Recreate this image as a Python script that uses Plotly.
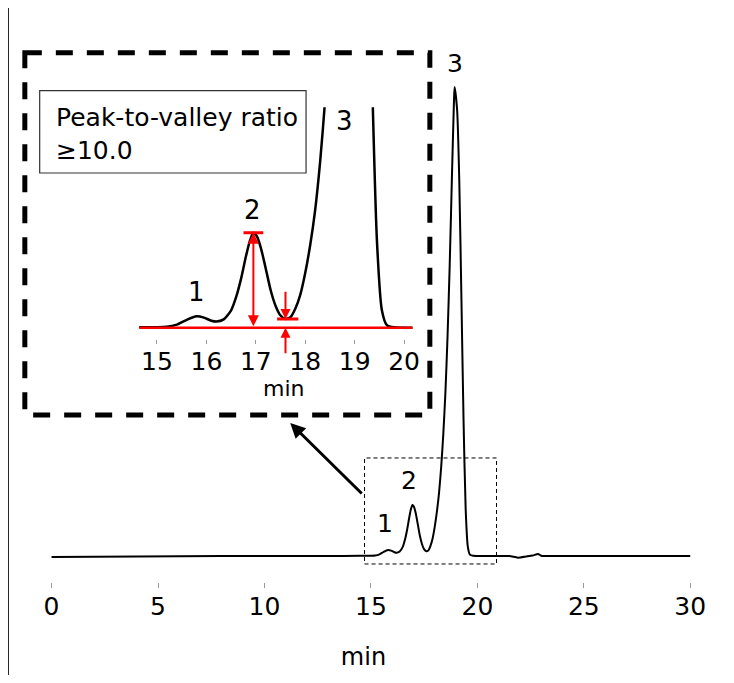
import plotly.graph_objects as go

# ---------------- data ----------------
time_min = [0, 2, 6, 10, 13, 14.5, 15.0, 15.2, 15.4, 15.6, 15.8, 15.95, 16.1, 16.2,
            16.35, 16.5, 16.6, 16.7, 16.8, 16.88, 16.95, 17.02, 17.1, 17.2, 17.3,
            17.4, 17.5, 17.6, 17.7, 17.8, 17.9, 18.0, 18.1, 18.2, 18.3, 18.4, 18.5,
            18.6, 18.7, 18.8, 18.9, 18.93, 19.05, 19.15, 19.25, 19.35, 19.45, 19.55,
            19.65, 19.8, 20.5, 21.5, 21.9, 22.3, 22.6, 22.85, 23.0, 24, 30]
signal = [-0.2, -0.15, -0.05, 0, 0, 0.05, 0.05, 0.1, 0.35, 0.9, 1.3, 1.15, 0.8, 0.7,
          0.95, 2.0, 3.5, 5.6, 8.2, 10.0, 10.9, 10.5, 9.2, 6.8, 4.3,
          2.5, 1.4, 1.0, 1.2, 2.2, 3.8, 6.3, 9.5, 13.5, 19, 26, 35,
          47, 62, 80, 97, 100, 95, 80, 55, 29, 10, 2,
          0.3, 0.05, 0, 0, -0.35, -0.1, 0.1, 0.45, 0.05, 0, 0]

main_ticks = [0, 5, 10, 15, 20, 25, 30]
inset_ticks = [15, 16, 17, 18, 19, 20]

peak_names = ["1", "2", "3"]
main_label_t = [15.67, 16.79, 18.93]
main_label_s = [7.0, 16.2, 105.1]
inset_label_t = [15.79, 16.93, 18.80]
inset_label_s = [4.1, 13.5, 23.7]

peak2_time, peak2_height = 16.95, 10.9
valley_time, valley_height = 17.6, 1.0
ratio_text = "Peak-to-valley ratio<br>≥10.0"
axis_title = "min"

# ---------------- layout helpers ----------------
PAGE_W, PAGE_H = 734, 683
OFF = 8                      # default body margin of the page (each side)
W, H = PAGE_W - 2 * OFF, PAGE_H - 2 * OFF


def px(x):
    return (x - OFF) / W


def py(y):
    return 1 - (y - OFF) / H


FONT = "DejaVu Sans, Liberation Sans, sans-serif"

fig = go.Figure()
fig.add_trace(go.Scatter(x=time_min, y=signal, mode="lines",
                         line=dict(color="black", width=2, shape="spline", smoothing=0.6),
                         xaxis="x", yaxis="y", hoverinfo="skip", showlegend=False))
fig.add_trace(go.Scatter(x=time_min, y=signal, mode="lines",
                         line=dict(color="black", width=2.5, shape="spline", smoothing=0.6),
                         xaxis="x2", yaxis="y2", hoverinfo="skip", showlegend=False))

main_ppm = 21.5          # pixels per minute on main axis
main_ppu = 4.69          # pixels per signal unit on main axis
main_zero_px, main_base_px, main_bottom_px = 52, 556, 582

inset_left, inset_right = 140.5, 416.5
inset_top, inset_bottom = 107.3, 339

shapes = []
annotations = []

# left border line
shapes.append(dict(type="line", xref="paper", yref="paper",
                   x0=0.0005, x1=0.0005, y0=1, y1=0,
                   line=dict(color="black", width=1)))
# big dashed frame
shapes.append(dict(type="rect", xref="paper", yref="paper",
                   x0=px(25), x1=px(434), y0=py(52.7), y1=py(415),
                   line=dict(color="black", width=5, dash="17px,14px")))
# small dashed frame in main chart
shapes.append(dict(type="rect", xref="x", yref="y", x0=14.7, x1=20.9, y0=-1.7, y1=20.9,
                   line=dict(color="black", width=1, dash="4px,3px")))
# text box
shapes.append(dict(type="rect", xref="paper", yref="paper",
                   x0=px(40), x1=px(309), y0=py(90.7), y1=py(173),
                   line=dict(color="#333333", width=1.2)))
# red baseline and caps in inset
shapes.append(dict(type="line", xref="x2", yref="y2", x0=14.64, x1=20.17, y0=0, y1=0,
                   line=dict(color="red", width=2.5)))
shapes.append(dict(type="line", xref="x2", yref="y2", x0=16.75, x1=17.15,
                   y0=peak2_height, y1=peak2_height, line=dict(color="red", width=3)))
shapes.append(dict(type="line", xref="x2", yref="y2", x0=17.43, x1=17.86,
                   y0=valley_height, y1=valley_height, line=dict(color="red", width=3)))

# peak labels
for name, t, s in zip(peak_names, main_label_t, main_label_s):
    annotations.append(dict(x=t, y=s, xref="x", yref="y", text=name, showarrow=False,
                            font=dict(size=25, family=FONT, color="black")))
for name, t, s in zip(peak_names, inset_label_t, inset_label_s):
    annotations.append(dict(x=t, y=s, xref="x2", yref="y2", text=name, showarrow=False,
                            font=dict(size=26, family=FONT, color="black")))

# ratio text
annotations.append(dict(x=px(54), y=py(133.5), xref="paper", yref="paper",
                        xanchor="left", yanchor="middle", align="left", text=ratio_text,
                        showarrow=False, font=dict(size=25, family=FONT, color="black")))

# inset axis title
annotations.append(dict(x=px(287), y=py(388), xref="paper", yref="paper",
                        text=axis_title, showarrow=False,
                        font=dict(size=22, family=FONT, color="black")))

# black arrow from small frame to inset
annotations.append(dict(x=px(293), y=py(423), xref="paper", yref="paper", text="",
                        showarrow=True, ax=73, ay=72, arrowhead=2, arrowsize=1,
                        arrowwidth=3, arrowcolor="black", standoff=0))

# red double arrow (peak height)
annotations.append(dict(x=peak2_time, y=peak2_height, xref="x2", yref="y2",
                        axref="x2", ayref="y2", ax=peak2_time, ay=0, text="",
                        showarrow=True, arrowside="end+start", arrowhead=2,
                        startarrowhead=2, arrowsize=1.1, startarrowsize=1.1,
                        arrowwidth=2, arrowcolor="red", standoff=0, startstandoff=0))
# red valley arrows
annotations.append(dict(x=valley_time, y=valley_height, xref="x2", yref="y2",
                        axref="x2", ayref="y2", ax=valley_time, ay=4.3, text="",
                        showarrow=True, arrowhead=2, arrowsize=1, arrowwidth=2,
                        arrowcolor="red", standoff=0))
annotations.append(dict(x=valley_time, y=0, xref="x2", yref="y2",
                        axref="x2", ayref="y2", ax=valley_time, ay=-3.1, text="",
                        showarrow=True, arrowhead=2, arrowsize=1, arrowwidth=2,
                        arrowcolor="red", standoff=0))

axis_common = dict(showgrid=False, zeroline=False, showline=False, ticks="outside",
                   tickcolor="#999999", tickwidth=1)

main_zero_f = main_zero_px - OFF
fig.update_layout(
    width=W, height=H,
    margin=dict(l=0, r=0, t=0, b=0),
    paper_bgcolor="white", plot_bgcolor="rgba(0,0,0,0)",
    font=dict(family=FONT, color="black"),
    showlegend=False,
    xaxis=dict(domain=[0, 1],
               range=[-main_zero_f / main_ppm, (W - main_zero_f) / main_ppm],
               tickvals=main_ticks, ticktext=[str(v) for v in main_ticks],
               tickfont=dict(size=25, family=FONT, color="black"),
               ticklen=5, ticklabelstandoff=-3,
               title=dict(text=axis_title, font=dict(size=24, family=FONT, color="black"),
                          standoff=28),
               anchor="y", **axis_common),
    yaxis=dict(domain=[py(main_bottom_px), 1],
               range=[-(main_bottom_px - main_base_px) / main_ppu,
                      (main_base_px - OFF) / main_ppu],
               visible=False),
    xaxis2=dict(domain=[px(inset_left), px(inset_right)], range=[14.64, 20.17],
                tickvals=inset_ticks, ticktext=[str(v) for v in inset_ticks],
                tickfont=dict(size=25, family=FONT, color="black"),
                ticklen=4, ticklabelstandoff=-4,
                anchor="y2", **axis_common),
    yaxis2=dict(domain=[py(inset_bottom), py(inset_top)], range=[-1.3, 25.3],
                anchor="x2", visible=False),
    shapes=shapes,
    annotations=annotations,
)

fig.write_html("out.html")
